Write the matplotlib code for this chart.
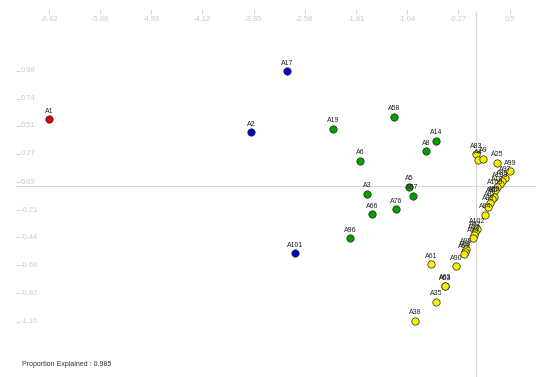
import matplotlib
matplotlib.use('Agg')
import matplotlib.pyplot as plt
import numpy as np

# puntos por grupo (coordenadas en las unidades del eje)
red_names = ['A1']
red_x = [-6.43]
red_y = [0.567]

blue_names = ['A17', 'A2', 'A101']
blue_x = [-2.85, -3.39, -2.73]
blue_y = [0.977, 0.457, -0.575]

green_names = ['A19', 'A58', 'A14', 'A8', 'A6', 'A5', 'A57', 'A3', 'A76', 'A66', 'A96']
green_x = [-2.16, -1.24, -0.61, -0.76, -1.75, -1.01, -0.96, -1.64, -1.21, -1.57, -1.90]
green_y = [0.485, 0.587, 0.383, 0.295, 0.212, -0.009, -0.086, -0.069, -0.202, -0.245, -0.449]

yellow_names = ['A83', 'A4', 'A9', 'A25', 'A99', 'A97', 'A95', 'A103', 'A10', 'A100',
                'A89', 'A86', 'A87', 'A88', 'A84', 'A102', 'A92', 'A93', 'A94', 'A98',
                'A68', 'A69', 'A90', 'A61', 'A53', 'A63', 'A35', 'A38']
yellow_x = [-0.006, 0.024, 0.10, 0.31, 0.505, 0.43, 0.385, 0.355, 0.31, 0.28,
            0.265, 0.235, 0.205, 0.175, 0.13, 0.01, -0.02, -0.036, -0.05, -0.156,
            -0.17, -0.186, -0.307, -0.683, -0.47, -0.475, -0.61, -0.925]
yellow_y = [0.269, 0.218, 0.227, 0.193, 0.124, 0.065, 0.039, 0.014, -0.012, -0.038,
            -0.097, -0.114, -0.148, -0.182, -0.25, -0.37, -0.396, -0.422, -0.447, -0.541,
            -0.566, -0.583, -0.686, -0.669, -0.856, -0.852, -0.99, -1.154]

x_ticks = [-6.42, -5.66, -4.89, -4.12, -3.35, -2.58, -1.81, -1.04, -0.27, 0.5]
y_ticks = [0.98, 0.74, 0.51, 0.27, 0.03, -0.21, -0.44, -0.68, -0.92, -1.16]
proportion = 0.985

plt.rcParams['font.family'] = ['Liberation Sans', 'DejaVu Sans']

fig = plt.figure(figsize=(5.36, 3.77), dpi=100)
ax = fig.add_axes([0, 0, 1, 1])
ax.set_xlim(-7.164, 0.896)
ax.set_ylim(-1.632, 1.582)
ax.patch.set_visible(False)

axis_col = '#d9d9e0'
tick_col = '#c9c9d2'

# lineas de los ejes que cruzan en el origen
ax.axhline(0, xmin=16 / 536, xmax=1, color=axis_col, lw=0.8, zorder=1)
ax.axvline(0, ymin=0, ymax=1 - 12 / 377, color=axis_col, lw=0.8, zorder=1)

groups = [
    (red_names, red_x, red_y, '#e00000'),
    (blue_names, blue_x, blue_y, '#0000c8'),
    (green_names, green_x, green_y, '#00a000'),
    (yellow_names, yellow_x, yellow_y, '#f8f000'),
]
for names, xs, ys, col in groups:
    ax.plot(xs, ys, 'o', ms=5.3, mfc=col, mec='#222222', mew=0.5, zorder=3)
    for n, x, y in zip(names, xs, ys):
        ax.annotate(n, (x, y), xytext=(0, 3.2), textcoords='offset points',
                    ha='center', va='bottom', fontsize=5, color='#222222', zorder=4)

# ticks arriba
for s in ax.spines.values():
    s.set_visible(False)
ax.xaxis.tick_top()
ax.spines['top'].set_position(('axes', 1 - 10 / 377))
ax.set_xticks(x_ticks)
ax.set_xticklabels([f'{v:g}' for v in x_ticks])
ax.tick_params(axis='x', direction='in', length=3, width=0.6, color=tick_col,
               labelcolor=tick_col, labelsize=5.5, pad=-9.5)

# ticks a la izquierda, etiquetas a la derecha del tick
ax.spines['left'].set_position(('axes', 16 / 536))
ax.set_yticks(y_ticks)
ax.set_yticklabels([f'{v:.2f}' for v in y_ticks])
ax.tick_params(axis='y', direction='in', length=3, width=0.6, color=tick_col,
               labelcolor=tick_col, labelsize=5.5, pad=-3.5)
for t in ax.get_yticklabels():
    t.set_ha('left')
    t.set_va('center')

fig.text(22 / 536, 1 - 365 / 377, f'Proportion Explained : {proportion}',
         fontsize=5, color='#333333', va='center', ha='left')

fig.savefig('out.png', dpi=100)
